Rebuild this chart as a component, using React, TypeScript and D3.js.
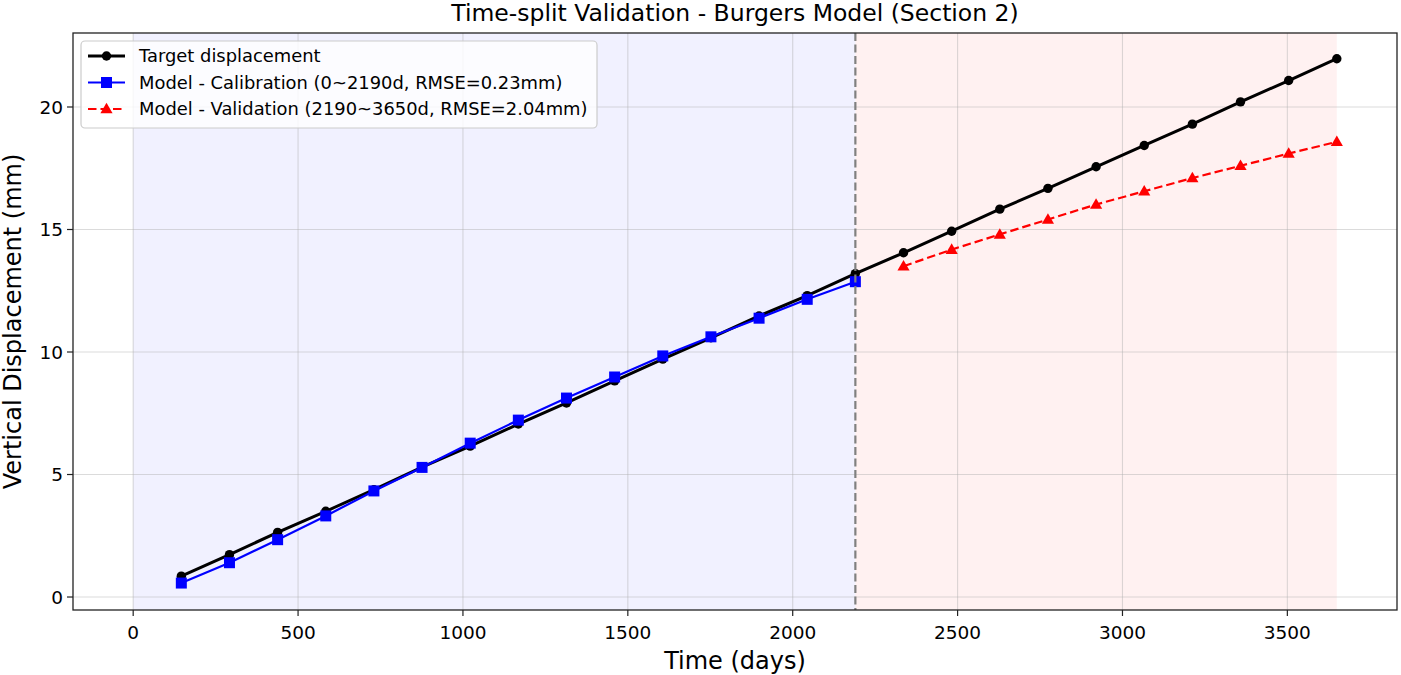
import React from "react";
import * as d3 from "d3";

// Sampling days (every 146 d over ten years)
const daysAll = [146, 292, 438, 584, 730, 876, 1022, 1168, 1314, 1460, 1606, 1752, 1898, 2044, 2190,
  2336, 2482, 2628, 2774, 2920, 3066, 3212, 3358, 3504, 3650];

// Measured (target) displacement, mm
const targetDisp = [0.85, 1.73, 2.64, 3.5, 4.38, 5.3, 6.16, 7.06, 7.92, 8.82, 9.71, 10.58, 11.47, 12.3, 13.2,
  14.05, 14.93, 15.83, 16.68, 17.56, 18.43, 19.3, 20.21, 21.08, 21.97];

// Burgers model fit on the calibration window (0–2190 d)
const calibDays = [146, 292, 438, 584, 730, 876, 1022, 1168, 1314, 1460, 1606, 1752, 1898, 2044, 2190];
const calibDisp = [0.57, 1.4, 2.34, 3.31, 4.33, 5.29, 6.28, 7.22, 8.12, 8.98, 9.84, 10.62, 11.38, 12.15, 12.87];

// Burgers model prediction on the validation window (2190–3650 d)
const validDays = [2336, 2482, 2628, 2774, 2920, 3066, 3212, 3358, 3504, 3650];
const validDisp = [13.5, 14.18, 14.8, 15.41, 16.02, 16.56, 17.1, 17.6, 18.1, 18.58];

const xTicks = [0, 500, 1000, 1500, 2000, 2500, 3000, 3500];
const yTicks = [0, 5, 10, 15, 20];

const splitDay = 2190;
const endDay = 3650;

const legendLabels = [
  "Target displacement",
  "Model - Calibration (0~2190d, RMSE=0.23mm)",
  "Model - Validation (2190~3650d, RMSE=2.04mm)",
];

const W = 1401;
const H = 675;
const L = 73, R = 1397, T = 33, B = 610;
const FONT = "'DejaVu Sans', sans-serif";

export default function App() {
  const x = d3.scaleLinear().domain([-182.5, 3832.5]).range([L, R]);
  const y = d3.scaleLinear().domain([-0.53, 23.02]).range([B, T]);

  const line = d3.line<[number, number]>().x((d) => x(d[0])).y((d) => y(d[1]));
  const target = daysAll.map((d, i) => [d, targetDisp[i]] as [number, number]);
  const calib = calibDays.map((d, i) => [d, calibDisp[i]] as [number, number]);
  const valid = validDays.map((d, i) => [d, validDisp[i]] as [number, number]);

  const tri = d3.symbol().type(d3.symbolTriangle).size(64)() as string;

  const legY = [56, 82.5, 109];
  const legX0 = 88, legX1 = 125, legMid = 106.5;

  return (
    <svg width={W} height={H} style={{ position: "absolute", left: 0, top: 0, background: "#fff" }}
      fontFamily={FONT}>
      <defs>
        <clipPath id="plot">
          <rect x={L} y={T} width={R - L} height={B - T} />
        </clipPath>
      </defs>
      <rect x={0} y={0} width={W} height={H} fill="#fff" />

      {/* shaded calibration / validation windows */}
      <rect x={x(0)} y={T} width={x(splitDay) - x(0)} height={B - T} fill="#0000ff" fillOpacity={0.055} />
      <rect x={x(splitDay)} y={T} width={x(endDay) - x(splitDay)} height={B - T} fill="#ff0000" fillOpacity={0.055} />

      {/* grid */}
      <g stroke="#b0b0b0" strokeOpacity={0.45} strokeWidth={1.1}>
        {xTicks.map((t) => (
          <line key={"gx" + t} x1={x(t)} x2={x(t)} y1={T} y2={B} />
        ))}
        {yTicks.map((t) => (
          <line key={"gy" + t} x1={L} x2={R} y1={y(t)} y2={y(t)} />
        ))}
      </g>

      <g clipPath="url(#plot)">
        {/* target */}
        <path d={line(target) as string} fill="none" stroke="#000" strokeWidth={3} strokeLinejoin="round" />
        {target.map((p, i) => (
          <circle key={"t" + i} cx={x(p[0])} cy={y(p[1])} r={4.7} fill="#000" />
        ))}
        {/* calibration */}
        <path d={line(calib) as string} fill="none" stroke="#0000ff" strokeWidth={2.2} strokeLinejoin="round" />
        {calib.map((p, i) => (
          <rect key={"c" + i} x={x(p[0]) - 5.5} y={y(p[1]) - 5.5} width={11} height={11} fill="#0000ff" />
        ))}
        {/* validation */}
        <path d={line(valid) as string} fill="none" stroke="#ff0000" strokeWidth={2.2} strokeDasharray="8.5,4" />
        {valid.map((p, i) => (
          <path key={"v" + i} d={tri} transform={`translate(${x(p[0])},${y(p[1]) + 0.8})`} fill="#ff0000" />
        ))}
        {/* split marker */}
        <line x1={x(splitDay)} x2={x(splitDay)} y1={T} y2={B} stroke="#808080" strokeWidth={2.2}
          strokeDasharray="8,3.5" />
      </g>

      {/* frame */}
      <rect x={L} y={T} width={R - L} height={B - T} fill="none" stroke="#222" strokeWidth={1.3} />

      {/* x axis */}
      {xTicks.map((t) => (
        <g key={"xt" + t}>
          <line x1={x(t)} x2={x(t)} y1={B} y2={B + 6} stroke="#222" strokeWidth={1.2} />
          <text x={x(t)} y={B + 29} textAnchor="middle" fontSize={18.5} fill="#000">{t}</text>
        </g>
      ))}
      {/* y axis */}
      {yTicks.map((t) => (
        <g key={"yt" + t}>
          <line x1={L - 6} x2={L} y1={y(t)} y2={y(t)} stroke="#222" strokeWidth={1.2} />
          <text x={L - 10} y={y(t)} dy="0.36em" textAnchor="end" fontSize={18.5} fill="#000">{t}</text>
        </g>
      ))}

      <text x={(L + R) / 2} y={669} textAnchor="middle" fontSize={24} fill="#000">Time (days)</text>
      <text transform={`translate(21,${(T + B) / 2}) rotate(-90)`} textAnchor="middle" fontSize={24} fill="#000">
        Vertical Displacement (mm)
      </text>
      <text x={(L + R) / 2} y={21} textAnchor="middle" fontSize={23.5} fill="#000">
        Time-split Validation - Burgers Model (Section 2)
      </text>

      {/* legend */}
      <rect x={81} y={41} width={516} height={87} rx={4} fill="#fff" fillOpacity={0.8} stroke="#cccccc" strokeWidth={1.2} />
      <line x1={legX0} x2={legX1} y1={legY[0]} y2={legY[0]} stroke="#000" strokeWidth={3} />
      <circle cx={legMid} cy={legY[0]} r={4.7} fill="#000" />
      <line x1={legX0} x2={legX1} y1={legY[1]} y2={legY[1]} stroke="#0000ff" strokeWidth={2.2} />
      <rect x={legMid - 5.5} y={legY[1] - 5.5} width={11} height={11} fill="#0000ff" />
      <line x1={legX0} x2={legX1} y1={legY[2]} y2={legY[2]} stroke="#ff0000" strokeWidth={2.2} strokeDasharray="8.5,4" />
      <path d={tri} transform={`translate(${legMid},${legY[2] + 0.8})`} fill="#ff0000" />
      {legendLabels.map((s, i) => (
        <text key={s} x={139} y={legY[i]} dy="0.36em" fontSize={17.9} fill="#000">{s}</text>
      ))}
    </svg>
  );
}
